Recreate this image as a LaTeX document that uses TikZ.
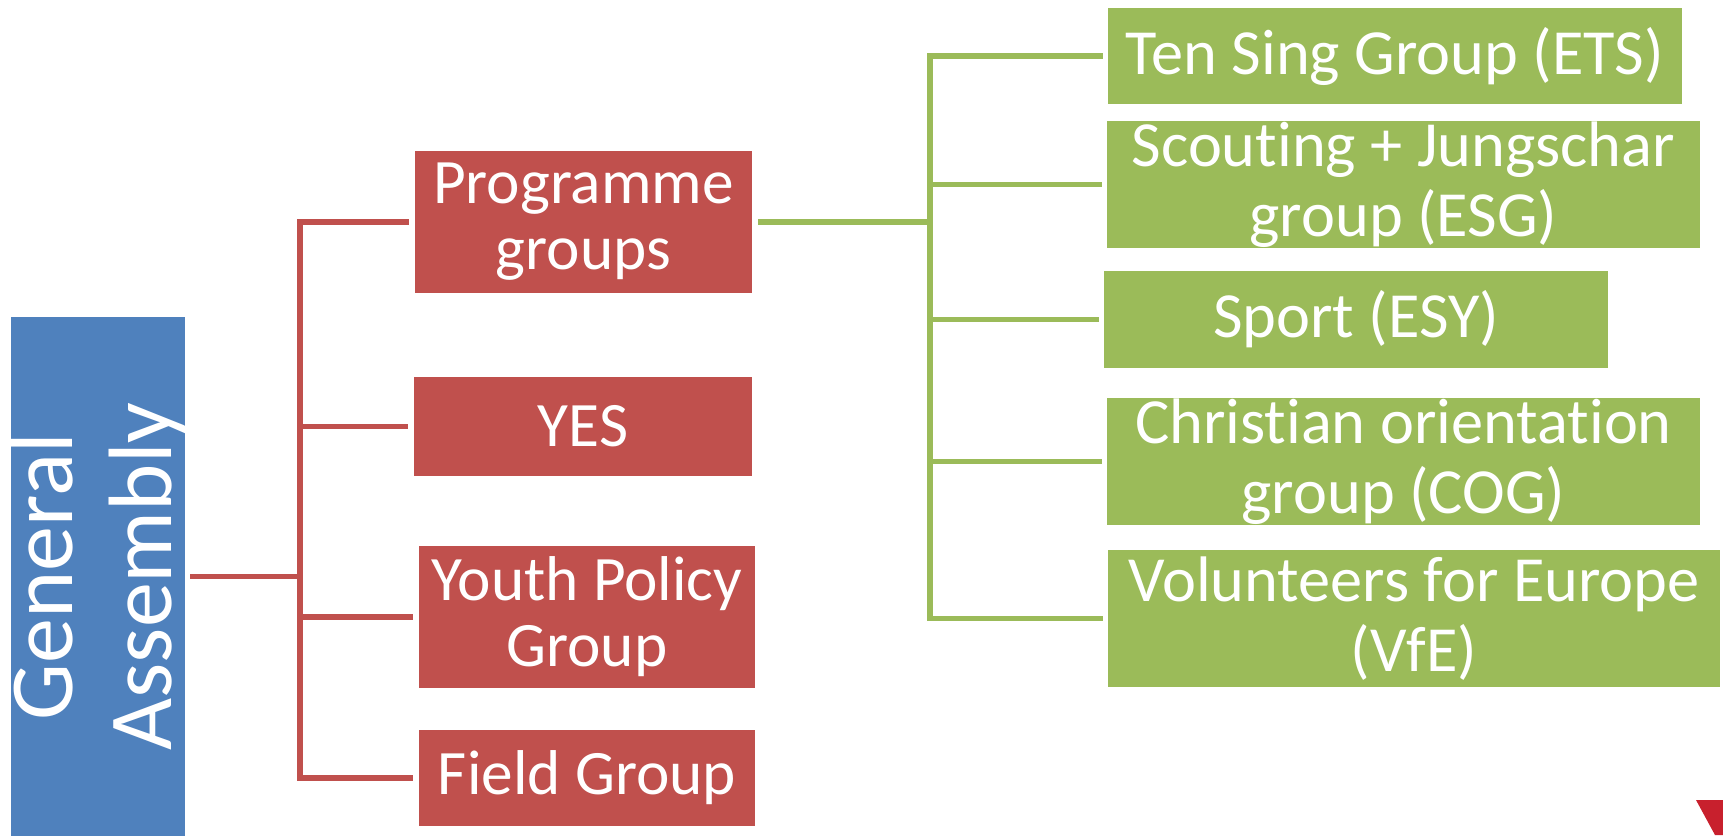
\documentclass[tikz,border=0pt]{standalone}
\usepackage{fontspec}
\setmainfont{Carlito}[Ligatures=NoCommon]
\definecolor{gablue}{HTML}{4F81BD}
\definecolor{grpred}{HTML}{C0504D}
\definecolor{subgreen}{HTML}{9BBB59}
\definecolor{cornerred}{HTML}{C8202D}
\begin{document}
\begin{tikzpicture}[x=0.01cm,y=-0.01cm,
assembly/.style={rectangle,fill=gablue,inner sep=0pt,outer sep=0.05cm},
assemblytext/.style={text=white,inner sep=0pt,align=center,rotate=90,font=\fontsize{25.6}{28.2}\selectfont},
redbox/.style={rectangle,fill=grpred,text=white,inner sep=0pt,outer sep=0.06cm,align=center,font=\fontsize{18}{18.8}\selectfont},
greenbox/.style={rectangle,fill=subgreen,text=white,inner sep=0pt,outer sep=0.05cm,align=center,font=\fontsize{18.3}{20}\selectfont},
redline/.style={draw=grpred,line width=1.5pt},
greenline/.style={draw=subgreen,line width=1.5pt}]

\useasboundingbox (0,0) rectangle (1723,835);

% General Assembly
\node[assembly,minimum width=1.74cm,minimum height=5.19cm] (ga) at (98,576.5) {};
\node[assemblytext] (gatext) at (ga.center) {General\\Assembly};

% Groups
\node[redbox,minimum width=3.37cm,minimum height=1.42cm] (prog) at (583.5,222) {Programme\\groups};
\node[redbox,minimum width=3.38cm,minimum height=0.99cm] (yes) at (583,426.5) {YES};
\node[redbox,minimum width=3.36cm,minimum height=1.42cm] (youth) at (587,617) {Youth Policy\\Group};
\node[redbox,minimum width=3.36cm,minimum height=0.96cm] (field) at (587,778) {Field Group};

% Programme groups
\node[greenbox,minimum width=5.74cm,minimum height=0.96cm] (ets) at (1395,56) {Ten Sing Group (ETS)};
\node[greenbox,minimum width=5.93cm,minimum height=1.21cm] (esg) at (1403.5,184.5) {Scouting + Jungschar\\group (ESG)};
\node[greenbox,minimum width=5.04cm,minimum height=0.97cm] (esy) at (1356,319.5) {Sport (ESY)};
\node[greenbox,minimum width=5.93cm,minimum height=1.25cm] (cog) at (1403.5,461.5) {Christian orientation\\group (COG)};
\node[greenbox,minimum width=6.12cm,minimum height=1.37cm] (vfe) at (1414,618.5) {Volunteers for Europe\\(VfE)};

% Corner
\fill[cornerred] (1696,800) -- (1723,800) -- (1723,835) -- (1715,835) -- cycle;

% Lines
\coordinate (rtrunk) at (300,576.5);
\coordinate (gtrunk) at (930,222);
\foreach \n in {prog,yes,youth,field}
  \draw[redline] (ga.east) -- (rtrunk) |- (\n.west);
\foreach \n in {ets,esg,esy,cog,vfe}
  \draw[greenline] (prog.east) -- (gtrunk) |- (\n.west);

\end{tikzpicture}
\end{document}
